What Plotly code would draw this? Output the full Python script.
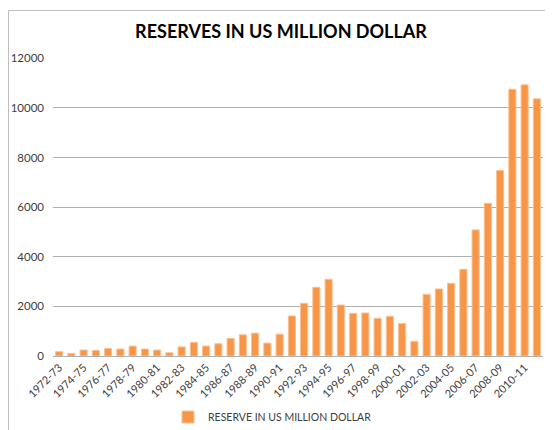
import plotly.graph_objects as go

categories = [f"{y}-{str(y + 1)[-2:]}" for y in range(1972, 2012)]
reserves = [173, 107, 240, 227, 300, 280, 400, 280, 240, 133,
            365, 547, 400, 493, 707, 853, 920, 520, 880, 1613,
            2124, 2769, 3091, 2056, 1720, 1734, 1519, 1600, 1304, 591,
            2487, 2702, 2930, 3495, 5081, 6156, 7473, 10753, 10927, 10363]
tick_labels = categories[::2]
y_ticks = [0, 2000, 4000, 6000, 8000, 10000, 12000]

# page offset (browser body margin) compensation
OFF = 8
W, H = 553 - OFF, 430 - OFF
# plot area in page pixels: x 53..543, y 58..356
ml = 53 - OFF
mt = 58 - OFF
pw = 543 - 53
ph = 356 - 58
mr = W - ml - pw
mb = H - mt - ph


def px2paper_x(px):
    return (px - OFF - ml) / pw


def px2paper_y(py):
    return (mt + ph - (py - OFF)) / ph


fig = go.Figure(go.Bar(
    x=categories, y=reserves,
    name="RESERVE IN US MILLION DOLLAR",
    marker=dict(color="#F79646", line=dict(color="#FAC090", width=1)),
))

fig.add_shape(type="rect", xref="paper", yref="paper",
              x0=px2paper_x(8.5), x1=px2paper_x(600), y0=px2paper_y(600), y1=px2paper_y(10.5),
              line=dict(color="#BFBFBF", width=1), fillcolor="rgba(0,0,0,0)", layer="below")

fig.update_layout(
    width=W, height=H,
    margin=dict(l=ml, r=mr, t=mt, b=mb, autoexpand=False),
    paper_bgcolor="white", plot_bgcolor="white",
    font=dict(family="Lato, Calibri, sans-serif", color="#404040"),
    title=dict(text="<b>RESERVES IN US MILLION DOLLAR</b>", x=(281 - OFF) / W, xref="container",
               xanchor="center", y=1 - (32 - OFF) / H, yanchor="middle",
               font=dict(size=18, color="#000000")),
    bargap=0.42,
    showlegend=True,
    legend=dict(orientation="h", x=px2paper_x(168), xanchor="left", y=px2paper_y(417), yanchor="middle",
                font=dict(size=10.5, color="#404040")),
    xaxis=dict(type="category", tickmode="array", tickvals=tick_labels, ticktext=tick_labels,
               tickangle=-45, tickfont=dict(size=11), showgrid=False, showline=True,
               linecolor="#B0B0B0", ticks="", automargin=False),
    yaxis=dict(range=[0, 12010], tickvals=y_ticks, tickformat="d", showgrid=True,
               gridcolor="#B0B0B0", gridwidth=1, zeroline=False, showline=False,
               tickfont=dict(size=11.5), ticks="", ticklabelstandoff=8, automargin=False),
)

fig.write_html("out.html")
